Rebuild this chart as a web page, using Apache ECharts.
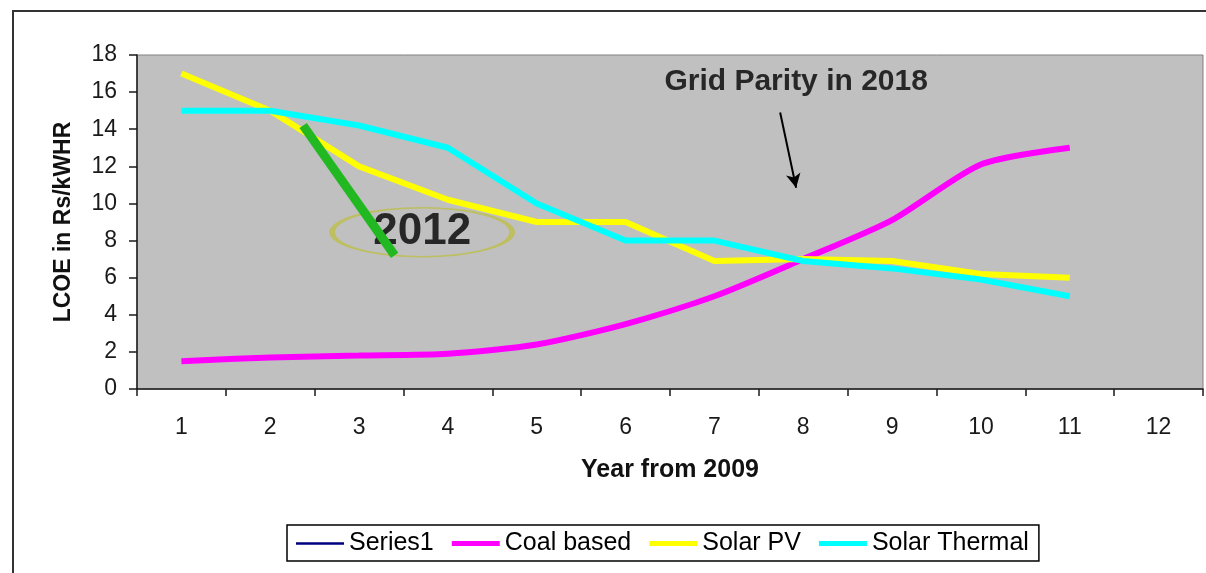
<!DOCTYPE html>
<html>
<head>
<meta charset="utf-8">
<style>
  html, body { margin: 0; padding: 0; background: #ffffff; }
  #chart { width: 1206px; height: 573px; }
</style>
<script src="https://cdn.jsdelivr.net/npm/echarts@6/dist/echarts.min.js"></script>
</head>
<body>
<div id="chart"></div>
<script>
// Levelised cost of electricity by source, years counted from 2009
const years = ['1', '2', '3', '4', '5', '6', '7', '8', '9', '10', '11', '12'];
const series1 = [];
const coalBased = [1.5, 1.7, 1.8, 1.9, 2.4, 3.5, 5.0, 7.0, 9.1, 12.1, 13.0];
const solarPV = [17.0, 15.0, 12.0, 10.2, 9.0, 9.0, 6.9, 7.0, 6.9, 6.2, 6.0];
const solarThermal = [15.0, 15.0, 14.2, 13.0, 10.0, 8.0, 8.0, 6.9, 6.5, 5.9, 5.0];

// Annotations, placed in data units (x in year positions, y in Rs/kWHR)
const highlightStroke = [[2.37, 14.2], [3.40, 7.2]];
const yearLabelMark = [[3.71, 8.45]];
const parityArrow = [[7.74, 14.9], [7.92, 10.85]];
const parityTextMark = [[7.92, 16.55]];

const FONT = 'Liberation Sans, Arial, sans-serif';
const thinIcon = 'path://M0,0L40,0L40,2L0,2Z';
const thickIcon = 'path://M0,0L40,0L40,4L0,4Z';

const chart = echarts.init(document.getElementById('chart'), null, { renderer: 'canvas' });

chart.setOption({
  backgroundColor: '#ffffff',
  animation: false,
  textStyle: { fontFamily: FONT },
  graphic: [{
    type: 'rect',
    z: -10,
    shape: { x: 13, y: 11, width: 1300, height: 700 },
    style: { fill: 'none', stroke: '#333333', lineWidth: 2 }
  }],
  grid: {
    left: 137, top: 55, right: 3, bottom: 184,
    show: true,
    backgroundColor: '#c0c0c0',
    borderColor: '#808080',
    borderWidth: 1
  },
  legend: {
    left: 287, top: 525,
    orient: 'horizontal',
    borderColor: '#000000',
    borderWidth: 1.5,
    padding: [6, 10, 5, 9],
    itemGap: 18,
    itemWidth: 48,
    itemHeight: 5,
    textStyle: { fontFamily: FONT, fontSize: 25, color: '#000000' },
    data: [
      { name: 'Series1', icon: thinIcon, itemStyle: { color: '#000080' } },
      { name: 'Coal based', icon: thickIcon, itemStyle: { color: '#ff00ff' } },
      { name: 'Solar PV', icon: thickIcon, itemStyle: { color: '#ffff00' } },
      { name: 'Solar Thermal', icon: thickIcon, itemStyle: { color: '#00ffff' } }
    ]
  },
  xAxis: [{
    type: 'category',
    data: years,
    boundaryGap: true,
    name: 'Year from 2009',
    nameLocation: 'middle',
    nameGap: 69,
    nameTextStyle: { fontFamily: FONT, fontSize: 25, fontWeight: 'bold', color: '#111111' },
    axisLine: { lineStyle: { color: '#1a1a1a', width: 1.5 } },
    axisTick: { show: true, inside: false, length: 7, lineStyle: { color: '#1a1a1a', width: 1.5 } },
    axisLabel: { fontFamily: FONT, fontSize: 23, color: '#1a1a1a', margin: 27 },
    splitLine: { show: false }
  }, {
    type: 'value',
    min: 0.5, max: 12.5,
    show: false,
    gridIndex: 0
  }],
  yAxis: {
    type: 'value',
    min: 0, max: 18, interval: 2,
    name: 'LCOE in Rs/kWHR',
    nameLocation: 'middle',
    nameGap: 62,
    nameRotate: 90,
    nameTextStyle: { fontFamily: FONT, fontSize: 23, fontWeight: 'bold', color: '#111111' },
    axisLine: { show: true, lineStyle: { color: '#1a1a1a', width: 1.5 } },
    axisTick: { show: true, inside: false, length: 8, lineStyle: { color: '#1a1a1a', width: 1.5 } },
    axisLabel: { fontFamily: FONT, fontSize: 23, color: '#1a1a1a', margin: 20 },
    splitLine: { show: false }
  },
  series: [
    {
      name: 'Series1', type: 'line', data: series1,
      showSymbol: false, symbol: 'none',
      lineStyle: { color: '#000080', width: 2 }, itemStyle: { color: '#000080' }
    },
    {
      name: 'Coal based', type: 'line', data: coalBased,
      showSymbol: false, symbol: 'none', smooth: 0.25,
      lineStyle: { color: '#ff00ff', width: 6 }, itemStyle: { color: '#ff00ff' }, z: 3
    },
    {
      name: 'Solar PV', type: 'line', data: solarPV,
      showSymbol: false, symbol: 'none',
      lineStyle: { color: '#ffff00', width: 6, join: 'round' }, itemStyle: { color: '#ffff00' }, z: 4
    },
    {
      name: 'Solar Thermal', type: 'line', data: solarThermal,
      showSymbol: false, symbol: 'none',
      lineStyle: { color: '#00ffff', width: 6, join: 'round' }, itemStyle: { color: '#00ffff' }, z: 5
    },
    {
      // "2012" callout ellipse
      name: 'yearCallout', type: 'scatter', xAxisIndex: 1, yAxisIndex: 0,
      data: yearLabelMark,
      symbol: 'circle', symbolSize: [180, 49],
      itemStyle: { color: 'rgba(0,0,0,0)', borderColor: '#bcbe48', borderWidth: 3 },
      label: {
        show: true, position: 'inside', formatter: '2012',
        fontFamily: FONT, fontSize: 44, fontWeight: 'bold', color: '#000000'
      },
      silent: true, z: 6
    },
    {
      // thick green stroke drawn over the callout
      name: 'highlightStroke', type: 'line', xAxisIndex: 1, yAxisIndex: 0,
      data: highlightStroke,
      showSymbol: false, symbol: 'none',
      lineStyle: { color: '#22b822', width: 9, cap: 'butt' },
      silent: true, z: 7
    },
    {
      // grid parity pointer
      name: 'parityArrow', type: 'line', xAxisIndex: 1, yAxisIndex: 0,
      data: [],
      silent: true, z: 8,
      markLine: {
        silent: true,
        symbol: ['none', 'arrow'],
        symbolSize: [11, 14],
        label: { show: false },
        lineStyle: { color: '#000000', width: 2, type: 'solid' },
        data: [[{ coord: parityArrow[0] }, { coord: parityArrow[1] }]]
      }
    },
    {
      name: 'parityText', type: 'scatter', xAxisIndex: 1, yAxisIndex: 0,
      data: parityTextMark,
      symbolSize: 0,
      label: {
        show: true, position: 'inside', formatter: 'Grid Parity in 2018',
        fontFamily: FONT, fontSize: 30, fontWeight: 'bold', color: '#000000'
      },
      silent: true, z: 8
    }
  ]
});
</script>
</body>
</html>
